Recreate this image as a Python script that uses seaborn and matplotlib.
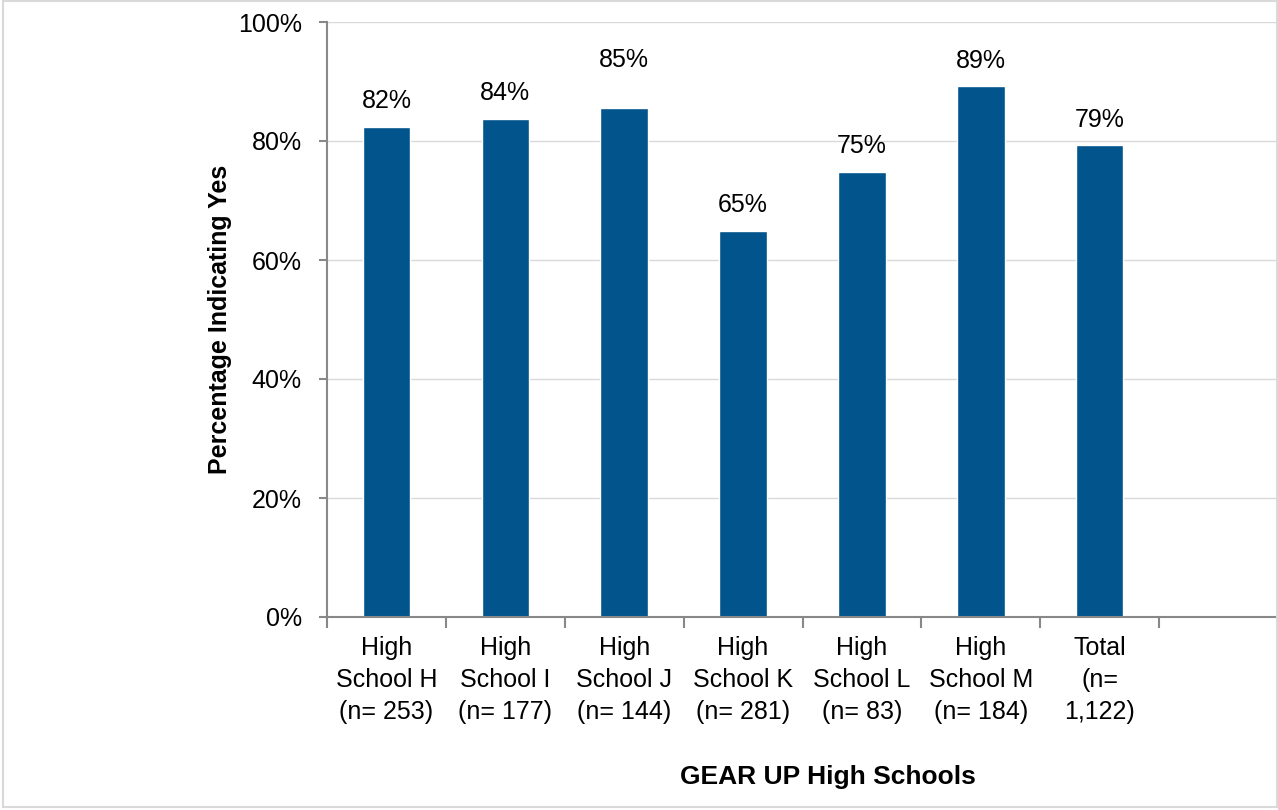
import numpy as np
import pandas as pd
import matplotlib.pyplot as plt
import seaborn as sns

# data
schools = ['High\nSchool H\n(n= 253)', 'High\nSchool I\n(n= 177)', 'High\nSchool J\n(n= 144)',
           'High\nSchool K\n(n= 281)', 'High\nSchool L\n(n= 83)', 'High\nSchool M\n(n= 184)',
           'Total\n(n=\n1,122)', '']
pct_yes = [82.4, 83.7, 85.5, 64.9, 74.8, 89.2, 79.3, np.nan]
bar_labels = ['82%', '84%', '85%', '65%', '75%', '89%', '79%', '']

df = pd.DataFrame({'school': schools, 'pct': pct_yes})

sns.set_theme(style='white')
plt.rcParams['font.family'] = ['Liberation Sans', 'DejaVu Sans']
fs = 18

fig = plt.figure(figsize=(12.78, 8.10), dpi=100)
ax = fig.add_axes([327/1278, 1 - 617/810, (1278 - 327)/1278, (617 - 22)/810])

sns.barplot(data=df, x='school', y='pct', color='#02548C', width=0.4,
            saturation=1, ax=ax)

# the label over School J sits higher in the original
label_offset = {2: 8.1}
for i, (v, lab) in enumerate(zip(pct_yes, bar_labels)):
    if lab:
        ax.text(i, v + label_offset.get(i, 4.3), lab, ha='center', va='center',
                fontsize=fs, color='black')

ax.set_ylim(0, 100)
ax.set_xlim(-0.5, 7.5)
ax.set_yticks(range(0, 101, 20))
ax.set_yticklabels([f'{t}%' for t in range(0, 101, 20)], fontsize=fs, color='black')
ax.yaxis.grid(True, color='#D9D9D9', linewidth=1)
ax.set_axisbelow(True)

ax.set_xticks(range(8))
ax.set_xticklabels(schools, fontsize=fs, linespacing=1.4, color='black')
ax.set_xticks(np.arange(-0.5, 8, 1), minor=True)
ax.tick_params(axis='x', which='major', length=0, pad=14)
ax.tick_params(axis='x', which='minor', length=8, color='#888888', width=1.5, direction='out', bottom=True)
ax.tick_params(axis='y', length=6, color='#888888', width=1.5, direction='out', left=True, pad=12)

for s in ['top', 'right']:
    ax.spines[s].set_visible(False)
for s in ['left', 'bottom']:
    ax.spines[s].set_color('#888888')
    ax.spines[s].set_linewidth(1.5)

ax.set_xlabel('')
ax.set_ylabel('Percentage Indicating Yes', fontsize=fs, fontweight='bold', color='black', labelpad=4)
fig.text(828/1278, 1 - 777/810, 'GEAR UP High Schools', fontsize=19, fontweight='bold',
         color='black', ha='center', va='center')

# light frame around the chart area
fig.patches.append(plt.Rectangle((3/1278, 3/810), 1 - 4/1278, 1 - 4/810, transform=fig.transFigure,
                                 fill=False, edgecolor='#D9D9D9', linewidth=1.5))

fig.savefig('out.png', dpi=100)
